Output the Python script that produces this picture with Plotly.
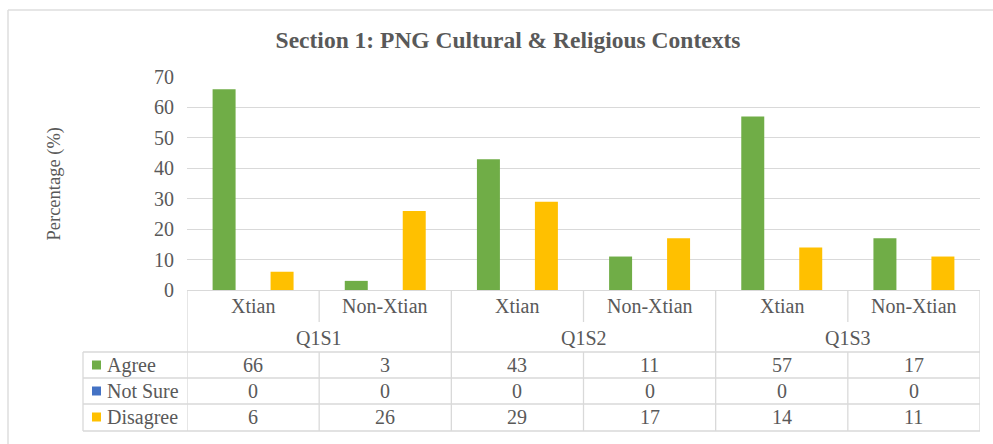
import plotly.graph_objects as go

# Survey results, Section 1 (percent of respondents)
questions = ["Q1S1", "Q1S2", "Q1S3"]
groups = ["Xtian", "Non-Xtian"]
agree = [66, 3, 43, 11, 57, 17]
not_sure = [0, 0, 0, 0, 0, 0]
disagree = [6, 26, 29, 17, 14, 11]
y_ticks = [0, 10, 20, 30, 40, 50, 60, 70]

series = [
    ("Agree", agree, "#70AD47"),
    ("Not Sure", not_sure, "#4472C4"),
    ("Disagree", disagree, "#FFC000"),
]

categories = [f"{q} {g}" for q in questions for g in groups]

FONT = "Liberation Serif"
TEXT = "#595959"
GRID = "#d9d9d9"

# plot-area geometry (pixels)
FW, FH = 993, 444
L, R, T, B = 187, 980, 77, 290
PW, PH = R - L, B - T


def fx(p):
    return (p - L) / PW


def fy(p):
    return (B - p) / PH


def tfont(size=20):
    return dict(family=FONT, size=size, color=TEXT)


fig = go.Figure()
for name, vals, color in series:
    fig.add_trace(go.Bar(x=categories, y=vals, name=name, marker_color=color,
                         marker_line_width=0))

shapes = []
annotations = []


def hline(y, x0, x1, xref="paper"):
    shapes.append(dict(type="line", xref=xref, yref="paper", x0=x0, x1=x1,
                       y0=fy(y), y1=fy(y), line=dict(color=GRID, width=1.3)))


def vline(x, y0, y1):
    shapes.append(dict(type="line", xref="x", yref="paper", x0=x, x1=x,
                       y0=fy(y0), y1=fy(y1), line=dict(color=GRID, width=1.3)))


def label(x, y, text, xref="x", xanchor="center", size=20):
    annotations.append(dict(xref=xref, yref="paper", x=x, y=y, text=text,
                            showarrow=False, font=tfont(size), xanchor=xanchor,
                            yanchor="middle"))


# outer chart frame
shapes.append(dict(type="line", xref="paper", yref="paper", x0=fx(8), x1=fx(8),
                   y0=fy(10), y1=fy(FH + 5), line=dict(color="#dedede", width=1.5)))
shapes.append(dict(type="line", xref="paper", yref="paper", x0=fx(8), x1=fx(FW + 5),
                   y0=fy(10), y1=fy(10), line=dict(color="#dedede", width=1.5)))

# data table grid
n = len(categories)
row_sub, row_top, rows = 322, 352, [378, 404, 431]
hline(row_top, fx(83), 1)
for y in rows:
    hline(y, fx(83), 1)
shapes.append(dict(type="line", xref="paper", yref="paper", x0=fx(83), x1=fx(83),
                   y0=fy(row_top), y1=fy(rows[-1]), line=dict(color=GRID, width=1.3)))
for i in range(n + 1):
    x = i - 0.5
    if i % len(groups) == 0:
        vline(x, B, rows[-1])
    else:
        vline(x, B, row_sub)
        vline(x, row_top, rows[-1])

for i, c in enumerate(categories):
    label(i, fy(306), groups[i % len(groups)])
for qi, q in enumerate(questions):
    label(qi * len(groups) + (len(groups) - 1) / 2, fy(338), q)

row_centers = [365, 391, 417]
for (name, vals, color), yc in zip(series, row_centers):
    shapes.append(dict(type="rect", xref="paper", yref="paper", x0=fx(92), x1=fx(101),
                       y0=fy(yc - 4.5), y1=fy(yc + 4.5), fillcolor=color, line_width=0))
    label(fx(105), fy(yc), name, xref="paper", xanchor="left")
    for i, v in enumerate(vals):
        label(i, fy(yc), f"{v}")

# axis title
annotations.append(dict(xref="paper", yref="paper", x=fx(54), y=0.5, text="Percentage (%)",
                        textangle=-90, showarrow=False, font=tfont(18.5),
                        xanchor="center", yanchor="middle"))

fig.update_layout(
    width=FW, height=FH,
    margin=dict(l=L, r=FW - R, t=T, b=FH - B, pad=0),
    paper_bgcolor="white", plot_bgcolor="white",
    barmode="group", bargap=0.342, bargroupgap=0.207,
    showlegend=False,
    title=dict(text="<b>Section 1: PNG Cultural & Religious Contexts</b>",
               xref="container", x=508 / FW, xanchor="center",
               yref="container", y=1 - 40 / FH, yanchor="middle",
               font=tfont(23.5)),
    shapes=shapes, annotations=annotations,
)
fig.update_xaxes(range=[-0.5, n - 0.5], showticklabels=False, showgrid=False,
                 showline=False, zeroline=False, ticks="")
fig.update_yaxes(range=[0, 70], tickvals=y_ticks, showgrid=True, gridcolor=GRID,
                 gridwidth=1.3, zeroline=True, zerolinecolor=GRID, zerolinewidth=1.3,
                 showline=False, ticks="", ticklabelstandoff=12,
                 tickfont=tfont(20))

fig.write_html("out.html")
